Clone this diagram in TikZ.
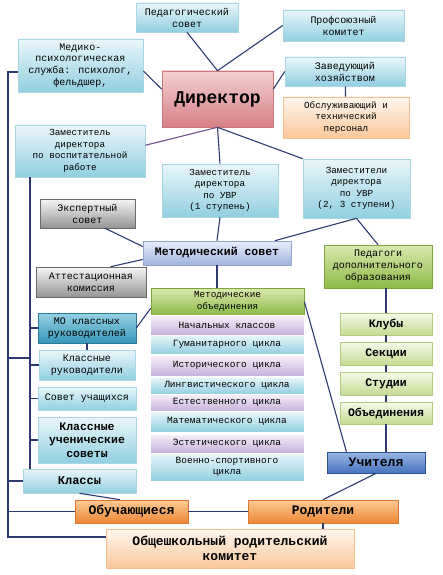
\documentclass[tikz,border=0pt]{standalone}
\usepackage{fontspec}
\setmainfont{Liberation Mono}
\usetikzlibrary{positioning,calc,shadows}

\definecolor{cyantop}{RGB}{234,246,250}
\definecolor{cyanbot}{RGB}{145,207,224}
\definecolor{cyanedge}{RGB}{168,214,228}
\definecolor{pinktop}{RGB}{244,208,208}
\definecolor{pinkbot}{RGB}{214,128,134}
\definecolor{pinkedge}{RGB}{205,118,124}
\definecolor{peachtop}{RGB}{255,246,238}
\definecolor{peachbot}{RGB}{250,200,155}
\definecolor{peachedge}{RGB}{245,192,145}
\definecolor{graytop}{RGB}{246,246,246}
\definecolor{graybot}{RGB}{148,148,148}
\definecolor{grayedge}{RGB}{105,105,105}
\definecolor{lavtop}{RGB}{232,238,250}
\definecolor{lavbot}{RGB}{160,178,222}
\definecolor{lavedge}{RGB}{148,165,210}
\definecolor{greentop}{RGB}{218,234,175}
\definecolor{greenbot}{RGB}{140,185,70}
\definecolor{greenedge}{RGB}{125,165,60}
\definecolor{lgreentop}{RGB}{246,250,234}
\definecolor{lgreenbot}{RGB}{196,218,145}
\definecolor{lgreenedge}{RGB}{178,204,128}
\definecolor{tealtop}{RGB}{150,210,228}
\definecolor{tealbot}{RGB}{55,150,185}
\definecolor{tealedge}{RGB}{40,120,150}
\definecolor{purtop}{RGB}{247,241,250}
\definecolor{purbot}{RGB}{200,176,218}
\definecolor{bluetop}{RGB}{152,182,230}
\definecolor{bluebot}{RGB}{70,115,190}
\definecolor{blueedge}{RGB}{45,80,150}
\definecolor{orangetop}{RGB}{252,202,148}
\definecolor{orangebot}{RGB}{238,135,55}
\definecolor{orangeedge}{RGB}{220,120,50}
\definecolor{linkblue}{RGB}{44,58,112}
\definecolor{linkpurple}{RGB}{112,82,142}

\tikzset{
  box/.style={rectangle, inner sep=1pt, align=center, line width=0.6pt,
    font=\fontsize{10}{12}\selectfont,
    drop shadow={opacity=0.25, shadow xshift=1.2pt, shadow yshift=-1.2pt}},
  cyanbox/.style={box, draw=cyanedge, top color=cyantop, bottom color=cyanbot},
  pinkbox/.style={box, draw=pinkedge, top color=pinktop, bottom color=pinkbot},
  peachbox/.style={box, draw=peachedge, top color=peachtop, bottom color=peachbot},
  graybox/.style={box, draw=grayedge, top color=graytop, bottom color=graybot},
  lavbox/.style={box, draw=lavedge, top color=lavtop, bottom color=lavbot},
  greenbox/.style={box, draw=greenedge, top color=greentop, bottom color=greenbot},
  lgreenbox/.style={box, draw=lgreenedge, top color=lgreentop, bottom color=lgreenbot,
    font=\fontsize{11.5}{13}\selectfont\bfseries},
  tealbox/.style={box, draw=tealedge, top color=tealtop, bottom color=tealbot},
  bluebox/.style={box, draw=blueedge, top color=bluetop, bottom color=bluebot},
  orangebox/.style={box, draw=orangeedge, top color=orangetop, bottom color=orangebot,
    font=\fontsize{13}{15}\selectfont\bfseries},
  puritem/.style={box, draw=white, top color=purtop, bottom color=purbot,
    minimum width=154pt, font=\fontsize{9.5}{11}\selectfont},
  cyanitem/.style={box, draw=white, top color=cyantop, bottom color=cyanbot,
    minimum width=154pt, font=\fontsize{9.5}{11}\selectfont},
  smalltext/.style={font=\fontsize{9.3}{11.5}\selectfont},
  link/.style={draw=linkblue, line width=1.1pt}
}

\begin{document}
\begin{tikzpicture}[x=1pt,y=-1pt]
  \useasboundingbox (0,0) rectangle (442,575);

  % top level
  \node (ped) [cyanbox, minimum width=102pt, minimum height=29pt] at (187,17.5) {Педагогический\\совет};
  \node (prof) [cyanbox, minimum width=121pt, minimum height=31pt] at (343.5,25.5) {Профсоюзный\\комитет};
  \node (med) [cyanbox, minimum width=125pt, minimum height=53pt, font=\fontsize{10}{11.6}\selectfont] at (80.5,65.5) {Медико-\\психологическая\\служба: психолог,\\фельдшер,};
  \node (dir) [pinkbox, minimum width=111pt, minimum height=56pt, font=\fontsize{18}{20}\selectfont\bfseries] at (217.5,99) {Директор};
  \node (zav) [cyanbox, minimum width=120pt, minimum height=29pt] at (345,71.5) {Заведующий\\хозяйством};
  \node (obs) [peachbox, smalltext, minimum width=126pt, minimum height=41pt] at (346,117.5) {Обслуживающий и\\технический\\персонал};

  % deputies
  \node (zvr) [cyanbox, smalltext, minimum width=130pt, minimum height=52pt] at (80,151) {Заместитель\\директора\\по воспитательной\\работе};
  \node (z1) [cyanbox, smalltext, minimum width=116pt, minimum height=53pt] at (220,190.5) {Заместитель\\директора\\по УВР\\(1 ступень)};
  \node (z23) [cyanbox, smalltext, minimum width=107pt, minimum height=59pt] at (356.5,188.5) {Заместители\\директора\\по УВР\\(2, 3 ступени)};

  % councils
  \node (exp) [graybox, minimum width=95pt, minimum height=29pt] at (87.5,213.5) {Экспертный\\совет};
  \node (met) [lavbox, minimum width=148pt, minimum height=24pt, font=\fontsize{11.5}{13}\selectfont\bfseries] at (217,253) {Методический совет};
  \node (att) [graybox, minimum width=110pt, minimum height=30pt] at (91,282) {Аттестационная\\комиссия};
  \node (pdo) [greenbox, minimum width=108pt, minimum height=43pt] at (378,266.5) {Педагоги\\дополнительного\\образования};

  % methodical unions
  \node (mo) [greenbox, smalltext, minimum width=153pt, minimum height=27pt] at (227.5,301.5) {Методические\\объединения};
  \node (nach) [puritem, minimum height=20pt] at (227,325) {Начальных классов};
  \node (gum) [cyanitem, minimum height=19pt] at (227,344.5) {Гуманитарного цикла};
  \node (ist) [puritem, minimum height=21pt] at (227,365.5) {Исторического цикла};
  \node (ling) [cyanitem, minimum height=17pt] at (227,385.5) {Лингвистического цикла};
  \node (estv) [puritem, minimum height=17pt] at (227,402.5) {Естественного цикла};
  \node (mat) [cyanitem, minimum height=21pt] at (227,421.5) {Математического цикла};
  \node (este) [puritem, minimum height=19pt] at (227,443.5) {Эстетического цикла};
  \node (voen) [cyanitem, minimum height=28pt] at (227,467) {Военно-спортивного\\цикла};

  % class side
  \node (mok) [tealbox, minimum width=98pt, minimum height=30pt] at (87,328) {МО классных\\руководителей};
  \node (kr) [cyanbox, minimum width=96pt, minimum height=30pt] at (87,365) {Классные\\руководители};
  \node (su) [cyanbox, minimum width=98pt, minimum height=23pt] at (87,398.5) {Совет учащихся};
  \node (kus) [cyanbox, minimum width=98pt, minimum height=46pt, font=\fontsize{11.5}{13.5}\selectfont\bfseries] at (87,440) {Классные\\ученические\\советы};
  \node (kl) [cyanbox, minimum width=113pt, minimum height=24pt, font=\fontsize{12}{14}\selectfont\bfseries] at (79.5,481) {Классы};

  % additional education
  \node (klub) [lgreenbox, minimum width=92pt, minimum height=22pt] at (386,324) {Клубы};
  \node (sek) [lgreenbox, minimum width=92pt, minimum height=23pt] at (386,353.5) {Секции};
  \node (stud) [lgreenbox, minimum width=92pt, minimum height=23pt] at (386,383.5) {Студии};
  \node (obed) [lgreenbox, minimum width=92pt, minimum height=22pt] at (386,413) {Объединения};
  \node (uch) [bluebox, minimum width=98pt, minimum height=21pt, font=\fontsize{13}{15}\selectfont\bfseries] at (376,462.5) {Учителя};

  % bottom
  \node (ob) [orangebox, minimum width=113pt, minimum height=23pt] at (131.5,511.5) {Обучающиеся};
  \node (rod) [orangebox, minimum width=150pt, minimum height=23pt] at (323,511.5) {Родители};
  \node (kom) [peachbox, minimum width=248pt, minimum height=39pt, font=\fontsize{13}{15}\selectfont\bfseries] at (230,548.5) {Общешкольный родительский\\комитет};

  \coordinate (outer) at (8,72);
  \coordinate (outerb) at (8,537);
  \coordinate (inner) at (30,358);

  \path [link]
  (dir.north) edge (ped.south)
  (dir.north) edge (prof.west)
  (dir.10) edge (zav.west)
  (zav) edge (obs)
  (med.-5) edge (dir.170)
  (dir.south) edge (z1.north)
  (dir.south) edge (z23.north west)
  (z1.south) edge (met.north)
  (z23.south) edge (met.12)
  (z23.south) edge (pdo.north)
  (exp.-40) edge (met.175)
  (att.38) edge (met.185)
  (met.south) edge (met.south |- mo.north)
  (mo.185) edge (mok.east)
  (mo.east) edge ($(uch.north west)!0.2!(uch.north east)$)
  (pdo.south -| klub) edge (klub.north)
  (klub) edge (sek)
  (sek) edge (stud)
  (stud) edge (obed)
  (obed.south) edge (obed.south |- uch.north)
  (mok) edge (kr)
  (kl.south) edge ($(ob.north west)!0.4!(ob.north east)$)
  (uch.south) edge (rod.north)
  (rod.south) edge (rod.south |- kom.north)
  (ob.east) edge (rod.west);
  \path [link, draw=linkpurple] (dir.south) edge (zvr.5);

  % left tree
  \draw [link] (outer -| med.west) -- (outer) -- (outerb) -- (outerb -| kom.west);
  \draw [link] (zvr.south -| inner) -- (kl.north -| inner);
  \path [link]
  (inner) edge (inner -| outer)
  (mok.west -| inner) edge (mok.west)
  (kr.west -| inner) edge (kr.west)
  (su.west -| inner) edge (su.west)
  (kus.west -| inner) edge (kus.west)
  (kl.west -| outer) edge (kl.west)
  (ob.west -| outer) edge (ob.west);
\end{tikzpicture}
\end{document}
